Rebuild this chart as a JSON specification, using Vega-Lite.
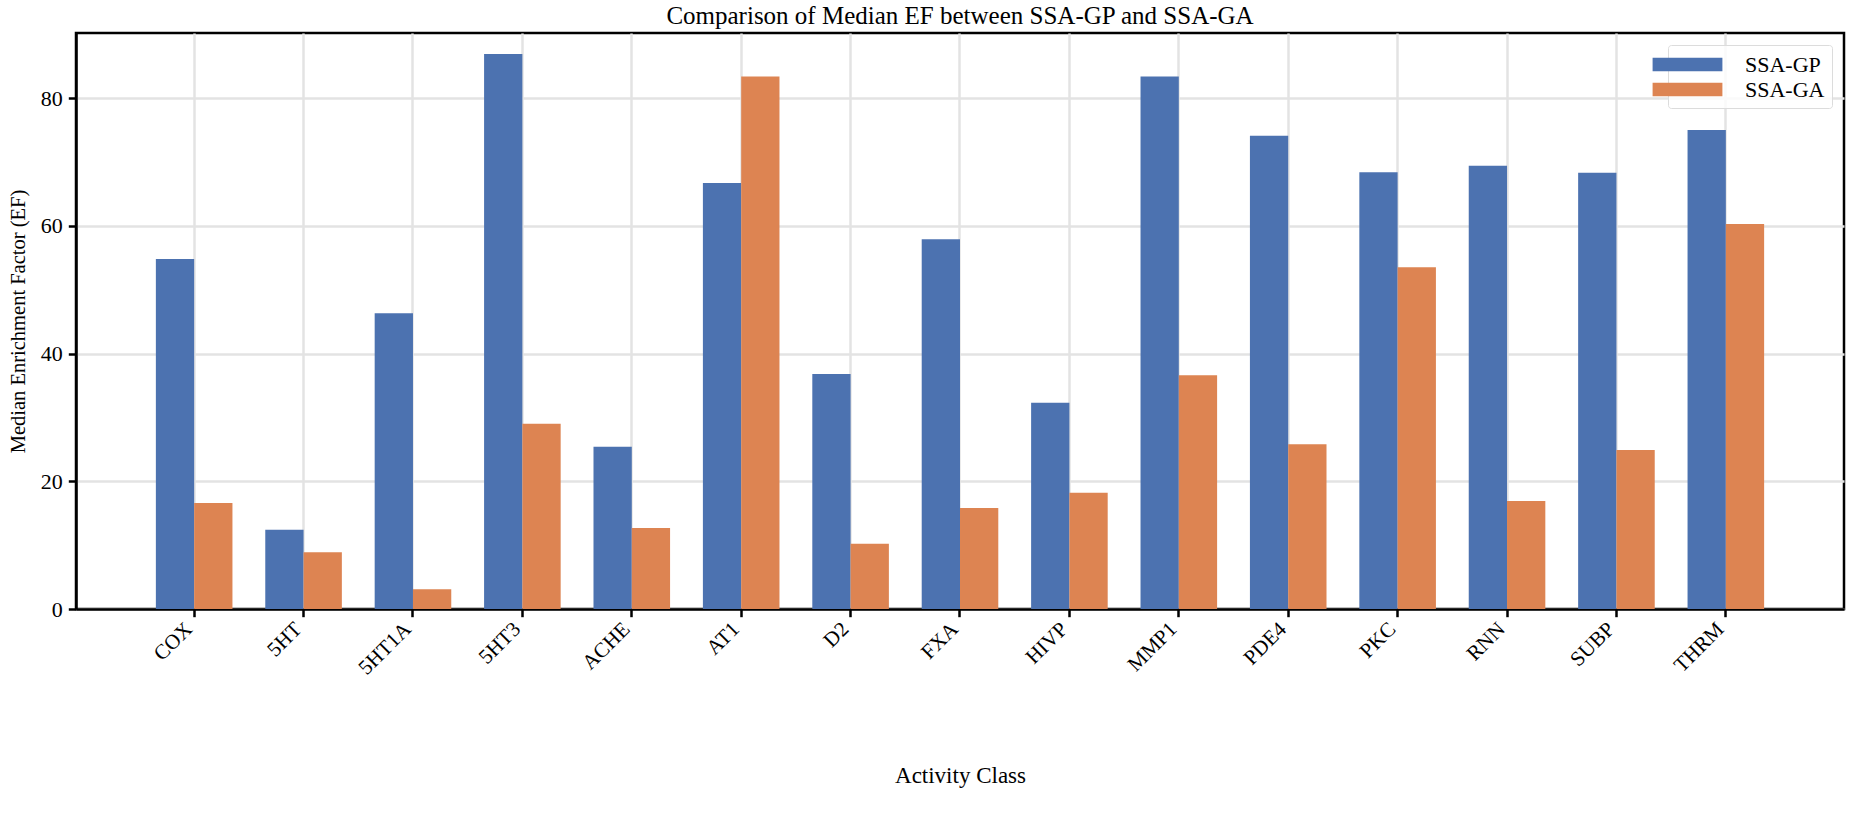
{
  "$schema": "https://vega.github.io/schema/vega-lite/v6.json",
  "autosize": {"type": "none"},
  "padding": {"left": 76, "top": 33, "right": 8, "bottom": 231},
  "width": 1768,
  "height": 576,
  "background": "white",
  "title": {
    "text": "Comparison of Median EF between SSA-GP and SSA-GA",
    "font": "Liberation Serif",
    "fontSize": 25,
    "fontWeight": "normal",
    "color": "black",
    "anchor": "middle",
    "baseline": "alphabetic",
    "offset": 9,
    "dy": 25
  },
  "data": {
    "values": [
      {"cls": "COX", "method": "SSA-GP", "ef": 54.8},
      {"cls": "COX", "method": "SSA-GA", "ef": 16.6},
      {"cls": "5HT", "method": "SSA-GP", "ef": 12.4},
      {"cls": "5HT", "method": "SSA-GA", "ef": 8.9},
      {"cls": "5HT1A", "method": "SSA-GP", "ef": 46.3},
      {"cls": "5HT1A", "method": "SSA-GA", "ef": 3.1},
      {"cls": "5HT3", "method": "SSA-GP", "ef": 86.9},
      {"cls": "5HT3", "method": "SSA-GA", "ef": 29.0},
      {"cls": "ACHE", "method": "SSA-GP", "ef": 25.4},
      {"cls": "ACHE", "method": "SSA-GA", "ef": 12.7},
      {"cls": "AT1", "method": "SSA-GP", "ef": 66.7},
      {"cls": "AT1", "method": "SSA-GA", "ef": 83.4},
      {"cls": "D2", "method": "SSA-GP", "ef": 36.8},
      {"cls": "D2", "method": "SSA-GA", "ef": 10.2},
      {"cls": "FXA", "method": "SSA-GP", "ef": 57.9},
      {"cls": "FXA", "method": "SSA-GA", "ef": 15.8},
      {"cls": "HIVP", "method": "SSA-GP", "ef": 32.3},
      {"cls": "HIVP", "method": "SSA-GA", "ef": 18.2},
      {"cls": "MMP1", "method": "SSA-GP", "ef": 83.4},
      {"cls": "MMP1", "method": "SSA-GA", "ef": 36.6},
      {"cls": "PDE4", "method": "SSA-GP", "ef": 74.1},
      {"cls": "PDE4", "method": "SSA-GA", "ef": 25.8},
      {"cls": "PKC", "method": "SSA-GP", "ef": 68.4},
      {"cls": "PKC", "method": "SSA-GA", "ef": 53.5},
      {"cls": "RNN", "method": "SSA-GP", "ef": 69.4},
      {"cls": "RNN", "method": "SSA-GA", "ef": 16.9},
      {"cls": "SUBP", "method": "SSA-GP", "ef": 68.3},
      {"cls": "SUBP", "method": "SSA-GA", "ef": 24.9},
      {"cls": "THRM", "method": "SSA-GP", "ef": 75.0},
      {"cls": "THRM", "method": "SSA-GA", "ef": 60.3}
    ]
  },
  "mark": {"type": "bar"},
  "encoding": {
    "x": {
      "field": "cls",
      "type": "nominal",
      "sort": null,
      "scale": {"paddingInner": 0, "paddingOuter": 0.58},
      "axis": {
        "title": "Activity Class",
        "titleFontSize": 23,
        "labelFontSize": 21,
        "labelAngle": -45,
        "labelAlign": "right",
        "labelBaseline": "middle",
        "labelPadding": 9,
        "labelOffset": -5,
        "bandPosition": 0.5,
        "titlePadding": 86
      }
    },
    "xOffset": {
      "field": "method",
      "type": "nominal",
      "sort": ["SSA-GP", "SSA-GA"],
      "scale": {"paddingInner": 0, "paddingOuter": 0.4286}
    },
    "y": {
      "field": "ef",
      "type": "quantitative",
      "scale": {"domain": [0, 90.2], "nice": false, "zero": true},
      "axis": {
        "title": "Median Enrichment Factor (EF)",
        "titleFontSize": 20.5,
        "labelFontSize": 22,
        "values": [0, 20, 40, 60, 80],
        "labelPadding": 6,
        "labelFlush": false,
        "titlePadding": 12
      }
    },
    "color": {
      "field": "method",
      "type": "nominal",
      "scale": {"domain": ["SSA-GP", "SSA-GA"], "range": ["#4c72b0", "#dd8452"]},
      "legend": {
        "title": null,
        "orient": "top-right",
        "offset": 12,
        "padding": 7,
        "fillColor": "rgba(255,255,255,0.8)",
        "strokeColor": "#dcdcdc",
        "cornerRadius": 3,
        "symbolType": "M-2.85,-0.555H2.85V0.555H-2.85Z",
        "symbolSize": 600,
        "symbolStrokeWidth": 0,
        "symbolOpacity": 1,
        "labelOffset": 45,
        "labelFont": "Liberation Serif",
        "labelFontSize": 22,
        "labelColor": "black",
        "rowPadding": 1
      }
    }
  },
  "config": {
    "view": {"stroke": "black", "strokeWidth": 2.5},
    "axis": {
      "labelFont": "Liberation Serif",
      "labelColor": "black",
      "titleFont": "Liberation Serif",
      "titleFontWeight": "normal",
      "titleColor": "black",
      "domainColor": "black",
      "domainWidth": 2.5,
      "tickColor": "black",
      "tickWidth": 2.5,
      "tickSize": 7.7,
      "grid": true,
      "gridColor": "#e3e3e3",
      "gridWidth": 2.5
    }
  }
}
